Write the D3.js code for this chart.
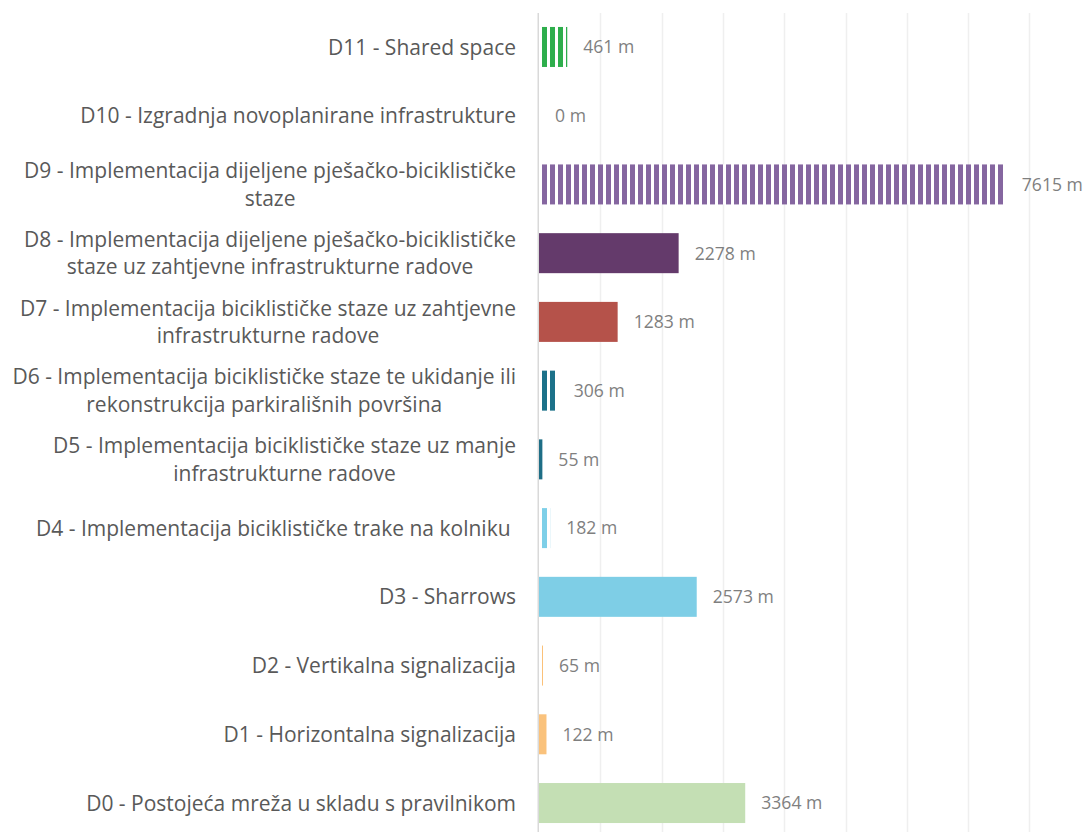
<!DOCTYPE html>
<html>
<head>
<meta charset="utf-8">
<script src="https://cdn.jsdelivr.net/npm/d3@7"></script>
<style>
  html, body { margin: 0; padding: 0; background: #ffffff; }
  svg { display: block; }
  text { font-family: "Open Sans", Lato, sans-serif; }
</style>
</head>
<body>
<svg id="chart" width="1089" height="832"></svg>
<script>
// Categories, top to bottom
const categories = ["D11", "D10", "D9", "D8", "D7", "D6", "D5", "D4", "D3", "D2", "D1", "D0"];

// Category labels (explicit line breaks)
const labels = [
  "D11 - Shared space",
  "D10 - Izgradnja novoplanirane infrastrukture",
  "D9 - Implementacija dijeljene pješačko-biciklističke\nstaze",
  "D8 - Implementacija dijeljene pješačko-biciklističke\nstaze uz zahtjevne infrastrukturne radove",
  "D7 - Implementacija biciklističke staze uz zahtjevne\ninfrastrukturne radove",
  "D6 - Implementacija biciklističke staze te ukidanje ili\nrekonstrukcija parkirališnih površina",
  "D5 - Implementacija biciklističke staze uz manje\ninfrastrukturne radove",
  "D4 - Implementacija biciklističke trake na kolniku ",
  "D3 - Sharrows",
  "D2 - Vertikalna signalizacija",
  "D1 - Horizontalna signalizacija",
  "D0 - Postojeća mreža u skladu s pravilnikom"
];

// Length in metres
const lengths = [461, 0, 7615, 2278, 1283, 306, 55, 182, 2573, 65, 122, 3364];

// Fill colour and whether the bar uses the vertical-stripe pattern
const colors = ["#2eae4c", "#2eae4c", "#8566a0", "#643a6b", "#b5524a", "#1c7189",
                "#1e6e86", "#7ecfe8", "#7ecee6", "#fbc077", "#fac27c", "#c4dfb4"];
const striped = [true, false, true, false, false, true, false, true, false, true, false, false];

// Axis ticks (metres)
const gridTicks = [0, 1000, 2000, 3000, 4000, 5000, 6000, 7000, 8000];

const svg = d3.select("#chart");
const W = 1089, H = 832;

const x = d3.scaleLinear().domain([0, 9000]).range([539, 539 + 9000 * 0.0613]);
const y = d3.scaleBand().domain(categories).range([12.6, 837.4]).paddingInner(0.418).paddingOuter(0.209);

// Stripe patterns, one per striped colour
const defs = svg.append("defs");
categories.forEach((c, i) => {
  if (!striped[i]) return;
  const p = defs.append("pattern")
    .attr("id", "stripe-" + c)
    .attr("patternUnits", "userSpaceOnUse")
    .attr("x", Math.round(x(0)) + 3)
    .attr("y", 0)
    .attr("width", 8)
    .attr("height", 8);
  p.append("rect").attr("width", 8).attr("height", 8).attr("fill", "#ffffff");
  p.append("rect").attr("width", 5).attr("height", 8).attr("fill", colors[i]);
});

// Vertical gridlines
svg.append("g")
  .selectAll("line")
  .data(gridTicks.slice(1))
  .join("line")
  .attr("x1", d => Math.round(x(d)) + 0.5)
  .attr("x2", d => Math.round(x(d)) + 0.5)
  .attr("y1", 13)
  .attr("y2", H)
  .attr("stroke", "#efefef")
  .attr("stroke-width", 1.5);

// Bars
svg.append("g")
  .selectAll("rect")
  .data(categories)
  .join("rect")
  .attr("x", x(0))
  .attr("y", d => y(d))
  .attr("width", (d, i) => x(lengths[i]) - x(0))
  .attr("height", y.bandwidth())
  .attr("fill", (d, i) => striped[i] ? `url(#stripe-${d})` : colors[i]);

// Category axis line
svg.append("line")
  .attr("x1", x(0) - 0.75).attr("x2", x(0) - 0.75)
  .attr("y1", 13).attr("y2", H)
  .attr("stroke", "#d9d9d9")
  .attr("stroke-width", 1.5);

// Value labels
svg.append("g")
  .selectAll("text")
  .data(categories)
  .join("text")
  .attr("x", (d, i) => x(lengths[i]) + 16)
  .attr("y", d => y(d) + y.bandwidth() / 2)
  .attr("dy", "0.36em")
  .attr("fill", "#7f7f7f")
  .attr("font-size", "17.6px")
  .text((d, i) => `${lengths[i]} m`);

// Category labels: block right-aligned, lines centred within the block
const labelRight = 516;
const lineH = 27.5;
const lg = svg.append("g");
categories.forEach((c, i) => {
  const lines = labels[i].split("\n");
  const cy = y(c) + y.bandwidth() / 2;
  const t = lg.append("text")
    .attr("fill", "#595959")
    .attr("font-size", "21px")
    .style("white-space", "pre");
  const spans = lines.map((ln, k) => t.append("tspan")
    .attr("y", cy + (k - (lines.length - 1) / 2) * lineH)
    .attr("dy", "0.36em")
    .text(ln));
  if (lines.length === 1) {
    t.attr("text-anchor", "end");
    spans[0].attr("x", labelRight);
  } else {
    const widths = spans.map(s => s.node().getComputedTextLength());
    const maxW = d3.max(widths);
    t.attr("text-anchor", "middle");
    spans.forEach(s => s.attr("x", labelRight - maxW / 2));
  }
});
</script>
</body>
</html>
